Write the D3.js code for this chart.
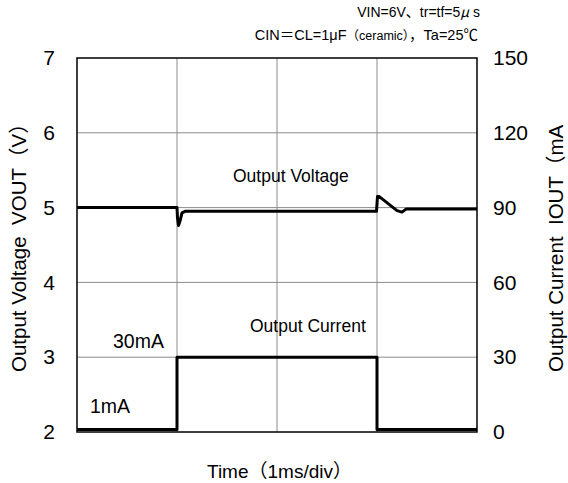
<!DOCTYPE html>
<html>
<head>
<meta charset="utf-8">
<script src="https://cdn.jsdelivr.net/npm/d3@7"></script>
<style>
  body { margin: 0; background: #fff; }
  text { font-family: 'Liberation Sans', Arial, 'Noto Sans CJK JP', sans-serif; fill: #000; white-space: pre; }
</style>
</head>
<body>
<div id="chart"></div>
<script>
// time in ms, 1ms/div
const timeTicks = [0, 1, 2, 3, 4]
const voltTicks = [2, 3, 4, 5, 6, 7]
const currTicks = [0, 30, 60, 90, 120, 150]

const voltTime = [0, 1.0, 1.005, 1.015, 1.03, 1.05, 1.08, 2.995, 3.005, 3.02, 3.2, 3.25, 3.29, 4.0]
const voltVal = [5.0, 5.0, 4.86, 4.76, 4.82, 4.93, 4.95, 4.95, 5.15, 5.15, 4.96, 4.94, 4.98, 4.98]

const currTime = [0, 1.0, 1.0, 3.0, 3.0, 4.0]
const currVal = [1, 1, 30, 30, 1, 1]

const margin = { top: 58, left: 77, right: 91, bottom: 51 }
const width = 568 - margin.left - margin.right
const height = 483 - margin.top - margin.bottom

const svg = d3
  .select('#chart')
  .append('svg')
  .attr('width', 568)
  .attr('height', 483)

const g = svg
  .append('g')
  .attr('transform', 'translate(' + margin.left + ',' + margin.top + ')')

const xScale = d3.scaleLinear().domain([0, 4]).range([0, width])
const yScale = d3.scaleLinear().domain([2, 7]).range([height, 0])
const y2Scale = d3.scaleLinear().domain([0, 150]).range([height, 0])

// grid
g.selectAll('.vgrid')
  .data(timeTicks.slice(1, -1))
  .enter()
  .append('line')
  .attr('x1', d => xScale(d))
  .attr('x2', d => xScale(d))
  .attr('y1', 0)
  .attr('y2', height)
  .attr('stroke', '#8c8c8c')
  .attr('stroke-width', 1)

g.selectAll('.hgrid')
  .data(voltTicks.slice(1, -1))
  .enter()
  .append('line')
  .attr('x1', 0)
  .attr('x2', width)
  .attr('y1', d => yScale(d))
  .attr('y2', d => yScale(d))
  .attr('stroke', '#8c8c8c')
  .attr('stroke-width', 1)

// frame
g.append('rect')
  .attr('width', width)
  .attr('height', height)
  .attr('fill', 'none')
  .attr('stroke', '#000')
  .attr('stroke-width', 1.5)

// left axis
const leftAxis = d3.axisLeft(yScale).tickValues(voltTicks).tickSize(0).tickPadding(22).tickFormat(d3.format('d'))
g.append('g')
  .call(leftAxis)
  .call(a => a.select('.domain').remove())
  .selectAll('text')
  .attr('font-size', 21)
  .attr('font-family', "'Liberation Sans', Arial, sans-serif")

// right axis
const rightAxis = d3.axisRight(y2Scale).tickValues(currTicks).tickSize(0).tickPadding(16).tickFormat(d3.format('d'))
g.append('g')
  .attr('transform', 'translate(' + width + ',0)')
  .call(rightAxis)
  .call(a => a.select('.domain').remove())
  .selectAll('text')
  .attr('font-size', 21)
  .attr('font-family', "'Liberation Sans', Arial, sans-serif")

// series
const vLine = d3
  .line()
  .x((d, i) => xScale(voltTime[i]))
  .y(d => yScale(d))

const iLine = d3
  .line()
  .x((d, i) => xScale(currTime[i]))
  .y(d => y2Scale(d))

g.append('path')
  .datum(currVal)
  .attr('d', iLine)
  .attr('fill', 'none')
  .attr('stroke', '#000')
  .attr('stroke-width', 3)
  .attr('stroke-linejoin', 'round')

g.append('path')
  .datum(voltVal)
  .attr('d', vLine)
  .attr('fill', 'none')
  .attr('stroke', '#000')
  .attr('stroke-width', 3)
  .attr('stroke-linejoin', 'round')

// labels inside plot
g.append('text')
  .attr('x', 156)
  .attr('y', 124)
  .attr('font-size', 17.5)
  .text('Output Voltage')

g.append('text')
  .attr('x', 173)
  .attr('y', 274)
  .attr('font-size', 17.5)
  .text('Output Current')

g.append('text')
  .attr('x', 36)
  .attr('y', 290)
  .attr('font-size', 19.5)
  .text('30mA')

g.append('text')
  .attr('x', 13)
  .attr('y', 355)
  .attr('font-size', 19.5)
  .text('1mA')

// axis titles
svg.append('text')
  .attr('transform', 'translate(26,372) rotate(-90)')
  .attr('font-size', 20.5)
  .text('Output Voltage  VOUT（V）')

svg.append('text')
  .attr('transform', 'translate(563,372) rotate(-90)')
  .attr('font-size', 20.5)
  .text('Output Current  IOUT（mA')

svg.append('text')
  .attr('x', 207)
  .attr('y', 478)
  .attr('font-size', 19)
  .text('Time（1ms/div）')

// conditions
const cond1 = svg.append('text')
  .attr('x', 480)
  .attr('y', 17)
  .attr('text-anchor', 'end')
  .attr('font-size', 14)
cond1.append('tspan').text('VIN=6V、tr=tf=5')
cond1.append('tspan').attr('font-style', 'italic').attr('font-family', "'Noto Sans CJK JP'").text('μ')
cond1.append('tspan').text(' s')

const cond2 = svg.append('text')
  .attr('x', 478)
  .attr('y', 40)
  .attr('text-anchor', 'end')
  .attr('font-size', 14.5)
cond2.append('tspan').text('CIN＝CL=1μF')
cond2.append('tspan').attr('font-size', 12.5).text('（ceramic）')
cond2.append('tspan').text('，Ta=25℃')
</script>
</body>
</html>
